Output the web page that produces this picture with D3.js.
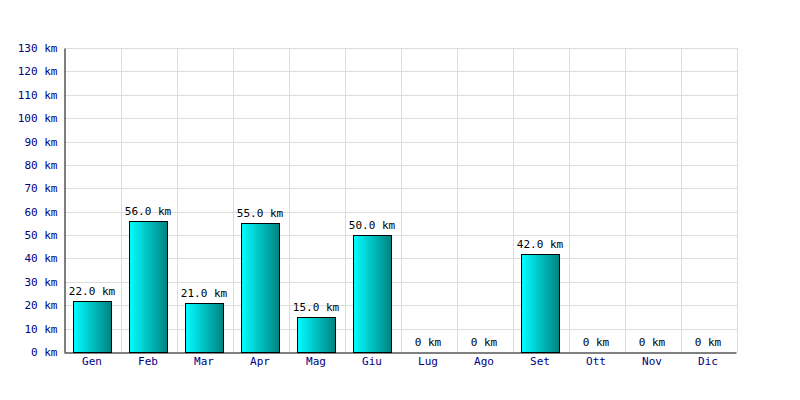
<!DOCTYPE html>
<html><head><meta charset="utf-8">
<script src="https://cdn.jsdelivr.net/npm/d3@7"></script>
<style>body{margin:0;background:#fff}svg{display:block}</style>
</head><body>
<svg id="c" width="800" height="400"></svg>
<script>
const months = ["Gen","Feb","Mar","Apr","Mag","Giu","Lug","Ago","Set","Ott","Nov","Dic"];
const values = [22,56,21,55,15,50,0,0,42,0,0,0];
const yTicks = [0,10,20,30,40,50,60,70,80,90,100,110,120,130];

const svg = d3.select("#c");
const m = {l:65, r:737, t:48, b:352};
const font = "'DejaVu Sans Mono', monospace";
const x = d3.scaleBand().domain(months).range([m.l, m.r]).paddingInner(0).paddingOuter(0);
const y = d3.scaleLinear().domain([0,130]).range([m.b, m.t]);

const defs = svg.append("defs");
const g = defs.append("linearGradient").attr("id","grad").attr("x1","0").attr("x2","1").attr("y1","0").attr("y2","0");
g.append("stop").attr("offset","0").attr("stop-color","#00ffff");
g.append("stop").attr("offset","1").attr("stop-color","#008080");

// grid
svg.append("g").selectAll("line.h").data(yTicks.filter(d=>d>0)).join("line")
  .attr("x1",m.l).attr("x2",m.r).attr("y1",d=>Math.round(y(d))+0.5).attr("y2",d=>Math.round(y(d))+0.5)
  .attr("stroke","#dddddd");
svg.append("g").selectAll("line.v").data(months.slice(1).concat(["end"])).join("line")
  .attr("x1",(d,i)=>Math.round(m.l + x.bandwidth()*(i+1))+0.5).attr("x2",(d,i)=>Math.round(m.l + x.bandwidth()*(i+1))+0.5)
  .attr("y1",m.t).attr("y2",m.b).attr("stroke","#dddddd");

// bars
const bw = 38;
svg.append("g").selectAll("rect").data(values.map((v,i)=>({m:months[i],v}))).join("rect")
  .filter(d=>d.v>0)
  .attr("x",d=>Math.round(x(d.m)+x.bandwidth()/2-bw/2)-0.5)
  .attr("y",d=>Math.round(y(d.v))+0.5)
  .attr("width",bw)
  .attr("height",d=>Math.round(y(0))-Math.round(y(d.v)))
  .attr("fill","url(#grad)").attr("stroke","#000").attr("stroke-width",1);

// value labels
svg.append("g").selectAll("text").data(values.map((v,i)=>({m:months[i],v}))).join("text")
  .attr("x",d=>x(d.m)+x.bandwidth()/2-1)
  .attr("y",d=>y(d.v)-6)
  .attr("text-anchor","middle").attr("font-family",font).attr("font-size","11px").attr("fill","#000")
  .text(d=>d.v===0?"0 km":d.v.toFixed(1)+" km");

// axes
const yAxis = d3.axisLeft(y).tickValues(yTicks).tickSize(0).tickPadding(7).tickFormat(d=>d+" km");
const ya = svg.append("g").attr("transform",`translate(${m.l-0.5},0)`).call(yAxis);
ya.select(".domain").attr("stroke","#000");
ya.selectAll("text").attr("font-family",font).attr("font-size","11px").attr("fill","#000080");

const xAxis = d3.axisBottom(x).tickSize(0).tickPadding(5);
const xa = svg.append("g").attr("transform",`translate(-1,${m.b+0.5})`).call(xAxis);
xa.select(".domain").attr("stroke","#000");
xa.selectAll("text").attr("font-family",font).attr("font-size","11px").attr("fill","#000080");
</script>
</body></html>
